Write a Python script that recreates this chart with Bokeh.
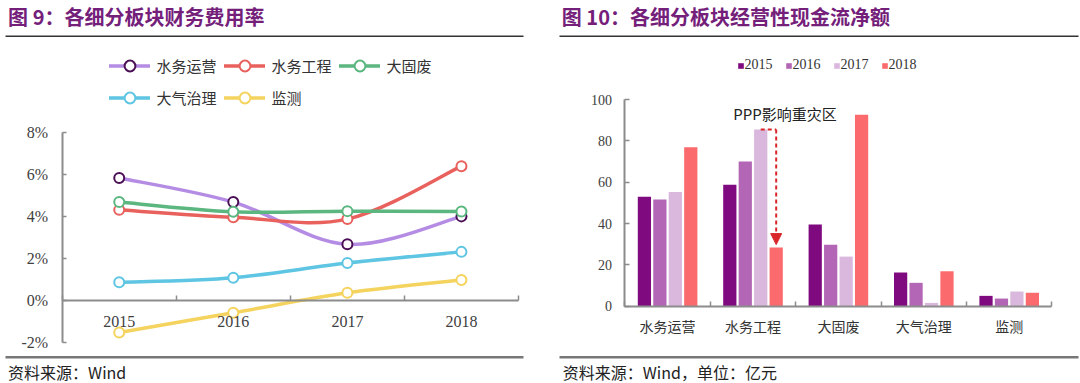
from bokeh.plotting import figure
from bokeh.layouts import row
from bokeh.models import (Range1d, FixedTicker, PrintfTickFormatter, Legend, LegendItem,
                          Label, Arrow, NormalHead, ColumnDataSource, LinearAxis)
from bokeh.transform import dodge
from bokeh.embed import file_html
from bokeh.resources import INLINE

# ---------------- data ----------------
years = ["2015", "2016", "2017", "2018"]
rate_names = ["水务运营", "水务工程", "大固废", "大气治理", "监测"]
rate_water_ops = [5.85, 4.70, 2.69, 4.02]
rate_water_eng = [4.33, 3.98, 3.89, 6.41]
rate_solid_waste = [4.70, 4.24, 4.27, 4.25]
rate_air = [0.88, 1.10, 1.80, 2.33]
rate_monitor = [-1.51, -0.57, 0.38, 0.99]
rate_ticks = [-2, 0, 2, 4, 6, 8]

sectors = ["水务运营", "水务工程", "大固废", "大气治理", "监测"]
cf_2015 = [52.9, 58.7, 39.5, 16.3, 5.0]
cf_2016 = [51.6, 70.0, 29.7, 11.3, 3.7]
cf_2017 = [55.2, 85.5, 24.0, 1.6, 7.1]
cf_2018 = [76.9, 28.4, 92.6, 16.9, 6.5]
cf_ticks = [0, 20, 40, 60, 80, 100]

# ---------------- layout constants ----------------
W, H = 540, 383
AXIS_C = "#8c8c8c"
TXT_C = "#404040"
TITLE_C = "#74207a"
CJK = "Noto Sans CJK SC"
SERIF = "Liberation Serif"


def xspan(v0, px0, v1, px1, total):
    per = (px1 - px0) / (v1 - v0)
    return Range1d(v0 - px0 / per, v1 + (total - px1) / per)


def yspan(v_bot, py_bot, v_top, py_top, total):
    # py measured from the top of the canvas
    per = (py_bot - py_top) / (v_top - v_bot)
    return Range1d(v_bot - (total - py_bot) / per, v_top + py_top / per)


def smooth_segments(xs, ys):
    """Bezier control points (Catmull-Rom style) for a smoothed line through the data."""
    n = len(xs)
    d = dict(x0=[], y0=[], x1=[], y1=[], cx0=[], cy0=[], cx1=[], cy1=[])
    for i in range(n - 1):
        im = max(i - 1, 0)
        ip = min(i + 2, n - 1)
        d["x0"].append(xs[i]); d["y0"].append(ys[i])
        d["x1"].append(xs[i + 1]); d["y1"].append(ys[i + 1])
        d["cx0"].append(xs[i] + (xs[i + 1] - xs[im]) / 6)
        d["cy0"].append(ys[i] + (ys[i + 1] - ys[im]) / 6)
        d["cx1"].append(xs[i + 1] - (xs[ip] - xs[i]) / 6)
        d["cy1"].append(ys[i + 1] - (ys[ip] - ys[i]) / 6)
    return ColumnDataSource(d)


def base_fig(xr, yr):
    p = figure(width=W, height=H, x_range=xr, y_range=yr, output_backend="svg",
               toolbar_location=None, x_axis_location=None, y_axis_location=None,
               min_border=0, min_border_left=0, min_border_right=0,
               min_border_top=0, min_border_bottom=0)
    p.outline_line_color = None
    p.grid.visible = False
    return p


def style_axis(ax, font, size, color):
    ax.axis_line_color = AXIS_C
    ax.axis_line_width = 2
    ax.major_label_text_font = font
    ax.major_label_text_font_size = size
    ax.major_label_text_color = color


def rule(p, x0, x1, y, color, width):
    p.add_layout(Arrow(end=None, x_start=x0, y_start=y, x_end=x1, y_end=y,
                       start_units="screen", end_units="screen", line_color=color, line_width=width))


def text(p, s, x, y, size, color, bold=False):
    p.add_layout(Label(text=s, x=x, y=y, x_units="screen", y_units="screen", text_font=CJK,
                       text_font_style="bold" if bold else "normal", text_font_size=size,
                       text_color=color, text_baseline="middle"))


# ---------------- left chart ----------------
n_years = len(years)
p1 = base_fig(xspan(0.5, 61.7, n_years + 0.5, 518.0, W),
              yspan(rate_ticks[0], 342.3, rate_ticks[-1], 132.3, H))

xpos = list(range(1, n_years + 1))
series = [
    (rate_names[0], rate_water_ops, "#b48ce4", "#4a0f55"),
    (rate_names[1], rate_water_eng, "#e8615d", "#e8615d"),
    (rate_names[2], rate_solid_waste, "#5bb67f", "#5bb67f"),
    (rate_names[3], rate_air, "#5ec5e2", "#5ec5e2"),
    (rate_names[4], rate_monitor, "#f4d35e", "#f4d35e"),
]
items = []
for name, vals, lc, mc in series:
    br = p1.bezier(x0="x0", y0="y0", x1="x1", y1="y1", cx0="cx0", cy0="cy0", cx1="cx1", cy1="cy1",
                   source=smooth_segments(xpos, vals), line_color=lc, line_width=3.5, line_cap="round")
    sr = p1.scatter(xpos, vals, marker="circle", size=10, fill_color="white", line_color=mc, line_width=2)
    items.append(LegendItem(label=name, renderers=[br, sr]))

leg1 = Legend(items=items, orientation="horizontal", ncols=3, location=(108.5, H - 110.5),
              glyph_width=41, glyph_height=27, label_height=27, label_width=62, label_standoff=7,
              spacing=5, padding=0, margin=0, border_line_color=None, background_fill_alpha=0,
              label_text_font=CJK, label_text_font_size="15px", label_text_color="#333333")
p1.add_layout(leg1)

xa = LinearAxis(fixed_location=0, bounds=(0.5, n_years + 0.5),
                ticker=FixedTicker(ticks=xpos, minor_ticks=[i + 0.5 for i in range(n_years + 1)]),
                major_label_overrides={i + 1: y for i, y in enumerate(years)})
style_axis(xa, SERIF, "16px", TXT_C)
xa.major_tick_in = 0
xa.major_tick_out = 0
xa.minor_tick_in = 5
xa.minor_tick_out = 0
xa.minor_tick_line_color = AXIS_C
xa.minor_tick_line_width = 1.5
xa.major_label_standoff = 15
p1.add_layout(xa, "below")

ya = LinearAxis(fixed_location=0.5, bounds=(rate_ticks[0], rate_ticks[-1]),
                ticker=FixedTicker(ticks=rate_ticks, minor_ticks=[]),
                formatter=PrintfTickFormatter(format="%d%%"))
style_axis(ya, SERIF, "16px", TXT_C)
ya.major_tick_in = 4
ya.major_tick_out = 0
ya.major_tick_line_color = AXIS_C
ya.major_tick_line_width = 1.5
ya.major_label_standoff = 14
p1.add_layout(ya, "left")

text(p1, "图 9：各细分板块财务费用率", 7.6, H - 16.2, "20px", TITLE_C, bold=True)
rule(p1, 5, 523, H - 35.7, "#333333", 1.5)
rule(p1, 5, 523, H - 356.7, "#777777", 2.5)
text(p1, "资料来源：Wind", 7.6, H - 371.7, "16px", "#222222")

# ---------------- right chart ----------------
n_sec = len(sectors)
p2 = base_fig(xspan(0.5, 84.4, n_sec + 0.5, 511.4, W),
              yspan(cf_ticks[0], 305.7, cf_ticks[-1], 99.0, H))

spos = list(range(1, n_sec + 1))
src = ColumnDataSource(dict(x=spos, y2015=cf_2015, y2016=cf_2016, y2017=cf_2017, y2018=cf_2018))
STEP = 0.181
BW = 0.155
bar_cols = [("2015", "y2015", "#7f0a7f", -1.5), ("2016", "y2016", "#b266b5", -0.5),
            ("2017", "y2017", "#dab7dd", 0.5), ("2018", "y2018", "#fb6a6c", 1.5)]
bitems = []
for lab, col, color, k in bar_cols:
    r = p2.vbar(x=dodge("x", k * STEP, range=p2.x_range), top=col, width=BW, source=src,
                fill_color=color, line_color=None)
    bitems.append(LegendItem(label=lab, renderers=[r]))

leg2 = Legend(items=bitems, orientation="horizontal", location=(196.5, H - 73),
              glyph_width=7, glyph_height=7, label_width=30, label_standoff=1, spacing=10,
              padding=0, margin=0, border_line_color=None, background_fill_alpha=0,
              label_text_font=SERIF, label_text_font_size="14px", label_text_color="#333333")
p2.add_layout(leg2)

xb = LinearAxis(fixed_location=0, bounds=(0.5, n_sec + 0.5),
                ticker=FixedTicker(ticks=spos, minor_ticks=[i + 0.5 for i in range(n_sec + 1)]),
                major_label_overrides={i + 1: s for i, s in enumerate(sectors)})
style_axis(xb, CJK, "14px", "#333333")
xb.major_tick_in = 0
xb.major_tick_out = 0
xb.minor_tick_in = 5
xb.minor_tick_out = 0
xb.minor_tick_line_color = AXIS_C
xb.minor_tick_line_width = 1.5
xb.major_label_standoff = 10
p2.add_layout(xb, "below")

yb = LinearAxis(fixed_location=0.5, bounds=(cf_ticks[0], cf_ticks[-1]),
                ticker=FixedTicker(ticks=cf_ticks, minor_ticks=[]))
style_axis(yb, SERIF, "14px", TXT_C)
yb.major_tick_in = 5
yb.major_tick_out = 0
yb.major_tick_line_color = AXIS_C
yb.major_tick_line_width = 1.5
yb.major_label_standoff = 13
p2.add_layout(yb, "left")

# PPP annotation: dashed arrow from 2017 bar top to the 2018 bar of 水务工程
eng = sectors.index("水务工程")
x17 = spos[eng] + 0.5 * STEP
x18 = spos[eng] + 1.5 * STEP
RED = "#d9262b"
p2.add_layout(Arrow(end=None, x_start=x17, y_start=cf_2017[eng], x_end=x18, y_end=cf_2017[eng],
                    line_color=RED, line_width=2, line_dash="4 3"))
p2.add_layout(Arrow(end=NormalHead(size=11, fill_color=RED, line_color=RED),
                    x_start=x18, y_start=cf_2017[eng], x_end=x18, y_end=cf_2018[eng] + 1.4,
                    line_color=RED, line_width=2, line_dash="4 3"))
p2.add_layout(Label(text="PPP影响重灾区", x=spos[eng] + 0.375, y=93.1, text_font=CJK,
                    text_font_size="15px", text_color="#222222", text_align="center",
                    text_baseline="middle"))

text(p2, "图 10：各细分板块经营性现金流净额", 21.3, H - 16.2, "20px", TITLE_C, bold=True)
rule(p2, 19, 538, H - 35.7, "#333333", 1.5)
rule(p2, 19, 538, H - 356.7, "#777777", 2.5)
text(p2, "资料来源：Wind，单位：亿元", 22.3, H - 371.7, "16px", "#222222")

layout = row(p1, p2)
open("out.html", "w").write(file_html(layout, INLINE))
